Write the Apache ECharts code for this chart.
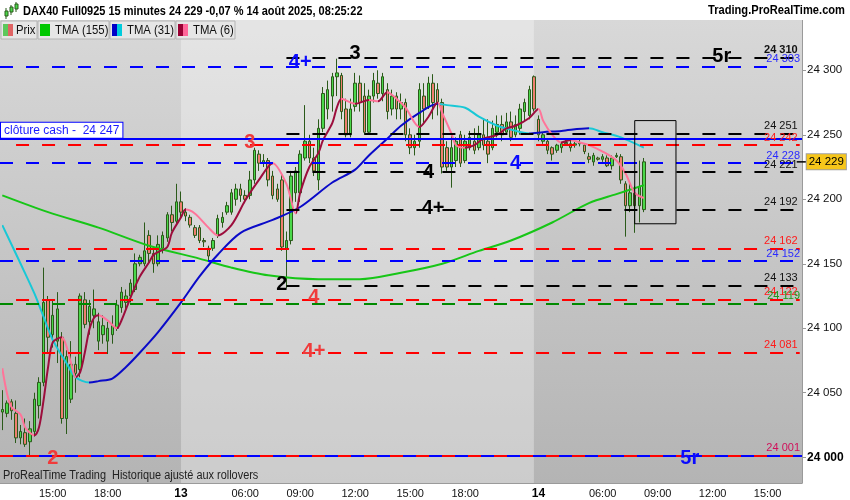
<!DOCTYPE html>
<html>
<head>
<meta charset="utf-8">
<title>DAX40 Full0925 15 minutes</title>
<script src="https://cdn.jsdelivr.net/npm/echarts@6/dist/echarts.min.js"></script>
<style>html,body{margin:0;padding:0;background:#fff}</style>
</head>
<body>
<div id="main" style="width:850px;height:500px;"></div>
<script type="text/javascript">
// séances : jour, première bougie, dernière bougie (15 minutes)
var seances = [['12', '12:15', '21:45'], ['13', '02:30', '21:45'], ['14', '02:30', '16:45']];

// bougies [ouverture, clôture, plus bas, plus haut]
var prix12 = [
  [24035,24037,24021,24052],[24034,24042,24031,24044],[24043,24036,24029,24045],[24034,24015,24011,24044],
  [24015,24020,24010,24025],[24019,24010,24008,24030],[24012,24022,24001,24028],[24020,24045,24016,24050],
  [24040,24058,24030,24062],[24058,24120,24055,24147],[24122,24093,24080,24125],[24095,24110,24085,24122],
  [24090,24115,24073,24128],[24093,24030,24026,24097],[24030,24078,24018,24083],[24045,24072,24042,24090],
  [24072,24065,24050,24078],[24068,24125,24062,24127],[24122,24103,24100,24128],[24105,24117,24095,24122],
  [24110,24115,24100,24130],[24090,24105,24083,24112],[24095,24102,24088,24110],[24090,24100,24080,24105],
  [24095,24102,24088,24110],[24100,24118,24098,24122],[24116,24128,24112,24132],[24120,24125,24115,24130],
  [24125,24135,24120,24138],[24130,24150,24128,24158],[24150,24155,24148,24157],[24150,24160,24148,24182],
  [24172,24158,24150,24176],[24158,24150,24143,24162],[24150,24165,24148,24172],[24162,24172,24158,24175],
  [24170,24188,24167,24190],[24188,24182,24175,24195],[24183,24198,24180,24212]
];
var prix13 = [
  [24198,24190,24185,24206],[24190,24187,24183,24193],[24186,24180,24178,24188],[24178,24172,24170,24180],
  [24178,24168,24166,24180],[24168,24167,24163,24170],[24162,24156,24152,24164],[24162,24168,24160,24170],
  [24172,24185,24170,24188],[24182,24186,24178,24190],[24190,24195,24188,24198],[24190,24205,24188,24208],
  [24200,24208,24195,24212],[24208,24203,24198,24212],[24203,24200,24197,24207],[24203,24215,24200,24222],
  [24215,24238,24212,24240],[24235,24228,24222,24238],[24228,24230,24225,24235],[24230,24215,24210,24232],
  [24218,24203,24200,24222],[24208,24200,24198,24212],[24215,24163,24160,24220],[24162,24168,24131,24175],
  [24168,24218,24165,24222],[24205,24222,24198,24225],[24205,24235,24198,24238],[24232,24245,24230,24273],
  [24245,24232,24228,24250],[24232,24222,24218,24240],[24215,24255,24207,24262],[24255,24282,24252,24287],
  [24270,24285,24262,24292],[24280,24295,24268,24298],[24295,24298,24280,24309],[24296,24268,24262,24298],
  [24270,24250,24248,24278],[24250,24270,24248,24278],[24272,24290,24268,24298],[24290,24275,24268,24296],
  [24280,24252,24250,24290],[24252,24280,24250,24285],[24280,24292,24275,24298],[24290,24282,24278,24300],
  [24282,24295,24276,24298],[24285,24268,24262,24290],[24270,24280,24265,24285],[24280,24270,24262,24283],
  [24270,24275,24262,24282],[24275,24250,24245,24278],[24250,24240,24235,24255],[24240,24245,24234,24250],
  [24245,24285,24240,24290],[24280,24270,24258,24290],[24272,24290,24270,24295],[24290,24275,24262,24297],
  [24285,24275,24265,24290],[24275,24225,24220,24278],[24240,24225,24222,24245],[24225,24240,24209,24252],
  [24230,24245,24225,24248],[24250,24228,24225,24253],[24230,24245,24228,24250],[24240,24248,24238,24253],
  [24245,24238,24235,24255],[24240,24250,24238,24257],[24250,24242,24238,24263],[24245,24235,24228,24262],
  [24240,24255,24238,24261],[24252,24258,24248,24265],[24258,24250,24245,24265],[24252,24260,24250,24267],
  [24260,24248,24245,24268],[24250,24258,24248,24265],[24255,24270,24250,24274],[24268,24275,24260,24278],
  [24265,24285,24262,24288],[24295,24270,24268,24296]
];
var prix14 = [
  [24262,24250,24245,24265],[24245,24250,24243,24252],[24245,24238,24235,24246],[24240,24235,24230,24241],
  [24238,24242,24236,24243],[24240,24243,24236,24244],[24244,24243,24242,24246],[24243,24240,24237,24246],
  [24242,24243,24240,24245],[24243,24244,24241,24246],[24242,24237,24235,24243],[24233,24231,24228,24236],
  [24229,24234,24226,24236],[24232,24231,24230,24233],[24231,24233,24229,24235],[24232,24226,24225,24234],
  [24226,24232,24223,24234],[24233,24234,24232,24236],[24233,24215,24212,24235],[24212,24195,24171,24214],
  [24195,24205,24190,24213],[24205,24195,24174,24210],[24195,24210,24182,24230],[24192,24229,24190,24232]
];

// moyennes mobiles : [index de bougie, valeur]
var tma155 = [[0,24203],[10,24190],[21,24178],[32,24164],[43,24154],[50,24147],[58,24141],[69,24138],[78,24138],
  [87,24143],[96,24150],[104,24160],[111,24168],[120,24182],[128,24197],[134,24204],[140,24211]];
var tma31 = [[0,24180],[4,24150],[7,24127],[9,24109],[11,24091],[14,24073],[16,24062],[19,24058],[21,24059],
  [24,24061],[27,24070],[30,24081],[34,24097],[39,24120],[43,24140],[47,24157],[52,24174],[59,24184],[65,24194],
  [72,24213],[77,24223],[80,24234],[84,24247],[87,24257],[91,24267],[95,24274],[97,24273],[101,24271],[104,24264],
  [108,24257],[111,24254],[115,24251],[118,24252],[122,24253],[128,24255],[131,24252],[135,24248],[140,24240]];
var tma6 = [[0,24069],[1,24050],[2,24039],[4,24033],[5,24023],[7,24017],[8,24023],[9,24044],[10,24070],[11,24089],
  [13,24093],[14,24086],[15,24073],[16,24062],[17,24066],[18,24081],[19,24099],[20,24108],[21,24110],[23,24106],
  [25,24100],[26,24106],[28,24124],[30,24140],[32,24151],[33,24157],[34,24159],[36,24163],[37,24174],[39,24186],
  [40,24192],[42,24189],[45,24178],[47,24172],[50,24180],[53,24199],[56,24215],[59,24228],[62,24212],[64,24189],
  [65,24205],[67,24225],[69,24236],[70,24246],[72,24259],[73,24271],[74,24278],[76,24275],[77,24274],[80,24277],
  [82,24276],[84,24283],[86,24278],[88,24271],[91,24256],[93,24264],[95,24275],[96,24267],[98,24251],[99,24242],
  [101,24240],[103,24242],[105,24247],[108,24250],[110,24255],[112,24257],[115,24263],[117,24270],[118,24261],
  [120,24250],[122,24244],[124,24246],[126,24244],[128,24242],[131,24237],[134,24230],[136,24220],[138,24205],[140,24201]];

// niveaux horizontaux
var niveauxNoirs = [24310, 24251, 24221, 24192, 24133];
var niveauxBleus = [24303, 24228, 24152];
var niveauxRouges = [24242, 24162, 24122, 24081];
var niveauxVerts = [24119];
var niveauBas = 24001;
var clotureCash = 24247;
var dernierCours = 24229;
var graduationsY = [24000, 24050, 24100, 24150, 24200, 24250, 24300];

// repères : [texte, index de bougie, prix]
var reperesNoirs = [['3', 77, 24313], ['5r', 157, 24311], ['4', 93, 24221], ['4+', 94, 24193], ['2', 61, 24134]];
var reperesBleus = [['4+', 65, 24306], ['4', 112, 24228], ['5r', 150, 23999]];
var reperesRouges = [['3', 54, 24244], ['4', 68, 24124], ['4+', 68, 24082], ['2', 11, 23999]];

// cadre : [index début, index fin, bas, haut]
var cadre = [138, 147, 24181, 24261];

var FONT = 'Liberation Sans, Arial, sans-serif';

function pad(n) { return (n < 10 ? '0' : '') + n; }
var categories = [];
seances.forEach(function (s) {
  var a = s[1].split(':'), b = s[2].split(':');
  for (var t = +a[0] * 60 + +a[1]; t <= +b[0] * 60 + +b[1]; t += 15) {
    categories.push(s[0] + ' ' + pad(Math.floor(t / 60)) + ':' + pad(t % 60));
  }
});
function estDebutJour(i) {
  return i > 0 && categories[i].slice(0, 2) !== categories[i - 1].slice(0, 2);
}
function heure(i) { return categories[i].slice(3); }
function fmtPrix(v) { var s = String(v); return s.slice(0, 2) + ' ' + s.slice(2); }

var bougies = prix12.concat(prix13, prix14);
var debut13 = prix12.length, fin13 = prix12.length + prix13.length - 1;
var last = categories.length - 1;

// sens de la pente -> couleur
function pieces(pts, up, down) {
  var p = [];
  for (var i = 1; i < pts.length; i++) {
    p.push({ gte: pts[i - 1][0], lte: pts[i][0], color: pts[i][1] >= pts[i - 1][1] ? up : down });
  }
  return p;
}

function ligne(v, debut, couleur, labCouleur, bold) {
  var lab = { show: true, position: 'insideEndTop', formatter: fmtPrix(v), color: labCouleur,
    fontSize: 11, fontFamily: FONT, fontWeight: bold ? 'bold' : 'normal', distance: 2 };
  var st = { color: couleur, width: 2, type: [13, 13] };
  if (debut === 0) return { yAxis: v, lineStyle: st, label: lab };
  return [{ coord: [categories[debut], v], lineStyle: st, label: lab }, { coord: [categories[last], v] }];
}

var lignes = [];
niveauxNoirs.forEach(function (v) { lignes.push(ligne(v, 62, '#000', '#111', v === 24310)); });
niveauxBleus.forEach(function (v) { lignes.push(ligne(v, 0, '#0000ff', '#2a2aff')); });
niveauxRouges.forEach(function (v) { lignes.push(ligne(v, 3, '#ff0000', '#ff1a1a')); });
niveauxVerts.forEach(function (v) { lignes.push(ligne(v, 0, '#008a00', '#1a9a1a')); });
lignes.push({ yAxis: niveauBas, lineStyle: { color: '#ff0000', width: 2, type: [13, 13] },
  label: { show: true, position: 'insideEndTop', formatter: fmtPrix(niveauBas), color: '#d0105a', fontSize: 11, fontFamily: FONT, distance: 2 } });
lignes.push({ yAxis: niveauBas, lineStyle: { color: '#0000ff', width: 2, type: [13, 13], dashOffset: 13 }, label: { show: false } });
lignes.push({ yAxis: clotureCash, lineStyle: { color: '#0000ff', width: 2, type: 'solid' },
  label: { show: true, position: 'insideStartTop', formatter: 'clôture cash -  ' + fmtPrix(clotureCash), color: '#1a1aff',
    fontSize: 12, fontFamily: FONT, backgroundColor: '#fff', borderColor: '#0000ff', borderWidth: 1, padding: [2, 3, 1, 3], distance: 1 } });

var reperes = [];
function ajoutReperes(liste, couleur) {
  liste.forEach(function (r) {
    reperes.push({ coord: [categories[r[1]], r[2]], symbolSize: 0,
      label: { show: true, position: 'inside', formatter: r[0], color: couleur, fontSize: 20, fontWeight: 'bold', fontFamily: FONT } });
  });
}
ajoutReperes(reperesNoirs, '#000');
ajoutReperes(reperesBleus, '#0a0aff');
ajoutReperes(reperesRouges, '#f03a3a');
// étiquette du dernier cours, sur l'axe de droite
reperes.push({ coord: [categories[last], dernierCours], symbol: 'rect', symbolSize: [10, 1.5], symbolOffset: [2, 0],
  itemStyle: { color: '#000' },
  label: { show: true, position: 'right', distance: 0, formatter: fmtPrix(dernierCours), color: '#000', fontSize: 11.5,
    fontFamily: FONT, backgroundColor: '#f6c61a', borderColor: '#a0a0a0', borderWidth: 1, padding: [2, 2, 1, 2] } });

var myChart = echarts.init(document.getElementById('main'));

var option = {
  animation: false,
  textStyle: { fontFamily: FONT },
  grid: { left: 0, right: 48, top: 20, bottom: 17, show: true, borderWidth: 0,
    backgroundColor: { type: 'linear', x: 0, y: 0, x2: 0, y2: 1,
      colorStops: [{ offset: 0, color: '#d8d8d8' }, { offset: 1, color: '#b4b4b4' }] } },
  xAxis: {
    type: 'category', data: categories, boundaryGap: true,
    axisLine: { lineStyle: { color: '#9a9a9a' } },
    axisTick: { alignWithLabel: true, length: 4, lineStyle: { color: '#9a9a9a' },
      interval: function (i) { var h = heure(i); return estDebutJour(i) || (h.slice(3) === '00' && (+h.slice(0, 2)) % 3 === 0); } },
    axisLabel: { color: '#111', fontSize: 11, margin: 5,
      interval: function (i) {
        var h = heure(i), hh = +h.slice(0, 2);
        return estDebutJour(i) || (h.slice(3) === '00' && hh % 3 === 0 && hh !== 21 && hh !== 3);
      },
      formatter: function (v, i) { return estDebutJour(i) ? '{d|' + v.slice(0, 2) + '}' : v.slice(3); },
      rich: { d: { fontWeight: 'bold', fontSize: 12, color: '#000' } } },
    splitLine: { show: false }
  },
  yAxis: {
    type: 'value', position: 'right', min: 23980, max: 24339, scale: true,
    axisLine: { show: true, lineStyle: { color: '#9a9a9a' } },
    axisTick: { show: true, length: 4, lineStyle: { color: '#9a9a9a' }, customValues: graduationsY },
    axisLabel: { color: '#111', fontSize: 11.5, margin: 5, customValues: graduationsY,
      formatter: function (v) { return v === 24000 ? '{b|' + fmtPrix(v) + '}' : fmtPrix(v); },
      rich: { b: { fontWeight: 'bold', fontSize: 12, color: '#000' } } },
    splitLine: { show: false }
  },
  visualMap: [
    { show: false, seriesIndex: 2, dimension: 0, pieces: pieces(tma31, '#0a0ac8', '#18c8d6') },
    { show: false, seriesIndex: 3, dimension: 0, pieces: pieces(tma6, '#9c0d3c', '#ff7499') }
  ],
  series: [
    {
      name: 'Prix', type: 'candlestick', data: bougies, barWidth: 3,
      itemStyle: { color: '#4ad84a', color0: '#f07f70', borderColor: '#2b5a1a', borderColor0: '#2b5a1a', borderWidth: 1 },
      markArea: { silent: true, itemStyle: { color: 'rgba(255,255,255,0.32)' },
        data: [[{ xAxis: categories[debut13] }, { xAxis: categories[fin13] }]] }
    },
    {
      name: 'TMA (155)', type: 'line', data: tma155, smooth: 0.3, showSymbol: false, z: 3,
      lineStyle: { color: '#17c617', width: 2 },
      markArea: { silent: true, z: 6, itemStyle: { color: 'rgba(0,0,0,0)', borderColor: '#000', borderWidth: 1 },
        data: [[{ coord: [categories[cadre[0]], cadre[2]] }, { coord: [categories[cadre[1]], cadre[3]] }]] }
    },
    { name: 'TMA (31)', type: 'line', data: tma31, smooth: 0.3, showSymbol: false, z: 3, lineStyle: { width: 2 } },
    { name: 'TMA (6)', type: 'line', data: tma6, smooth: 0.3, showSymbol: false, z: 3, lineStyle: { width: 2 } },
    {
      name: 'niveaux', type: 'line', data: [], z: 4,
      markLine: { silent: true, symbol: 'none', data: lignes },
      markPoint: { silent: true, symbol: 'circle', itemStyle: { color: 'rgba(0,0,0,0)' }, data: reperes }
    }
  ],
  graphic: [
    { type: 'rect', z: 100, shape: { x: 0, y: 0, width: 850, height: 20 }, style: { fill: '#fff' } },
    { type: 'line', z: 101, shape: { x1: 6, y1: 8, x2: 6, y2: 19 }, style: { stroke: '#2b5a1a', lineWidth: 1 } },
    { type: 'rect', z: 102, shape: { x: 5, y: 11, width: 3, height: 5 }, style: { fill: '#4ad84a', stroke: '#2b5a1a', lineWidth: 1 } },
    { type: 'line', z: 101, shape: { x1: 11, y1: 5, x2: 11, y2: 15 }, style: { stroke: '#2b5a1a', lineWidth: 1 } },
    { type: 'rect', z: 102, shape: { x: 10, y: 7, width: 3, height: 5 }, style: { fill: '#4ad84a', stroke: '#2b5a1a', lineWidth: 1 } },
    { type: 'line', z: 101, shape: { x1: 16, y1: 2, x2: 16, y2: 12 }, style: { stroke: '#2b5a1a', lineWidth: 1 } },
    { type: 'rect', z: 102, shape: { x: 15, y: 4, width: 3, height: 5 }, style: { fill: '#4ad84a', stroke: '#2b5a1a', lineWidth: 1 } },
    { type: 'text', z: 101, x: 23, y: 11, scaleX: 0.845, style: { text: 'DAX40 Full0925 15 minutes 24 229 -0,07 % 14 août 2025, 08:25:22',
      font: 'bold 13px ' + FONT, fill: '#000', verticalAlign: 'middle' } },
    { type: 'text', z: 101, x: 845, y: 11, scaleX: 0.89, style: { text: 'Trading.ProRealTime.com', font: 'bold 12.5px ' + FONT,
      fill: '#000', align: 'right', verticalAlign: 'middle' } },
    // légende
    { type: 'rect', z: 100, shape: { x: 1, y: 21, width: 36, height: 18 }, style: { fill: '#e6e6e6', stroke: '#b4b4b4', lineWidth: 1 } },
    { type: 'rect', z: 101, shape: { x: 3, y: 24, width: 5, height: 12 }, style: { fill: '#5cc85c' } },
    { type: 'rect', z: 101, shape: { x: 8, y: 24, width: 5, height: 12 }, style: { fill: '#e06464' } },
    { type: 'text', z: 101, x: 16, y: 30, scaleX: 0.87, style: { text: 'Prix', font: '13px ' + FONT, fill: '#111', verticalAlign: 'middle' } },
    { type: 'rect', z: 100, shape: { x: 38, y: 21, width: 71, height: 18 }, style: { fill: '#e6e6e6', stroke: '#b4b4b4', lineWidth: 1 } },
    { type: 'rect', z: 101, shape: { x: 40, y: 24, width: 10, height: 12 }, style: { fill: '#00c800' } },
    { type: 'text', z: 101, x: 55, y: 30, scaleX: 0.87, style: { text: 'TMA (155)', font: '13px ' + FONT, fill: '#111', verticalAlign: 'middle' } },
    { type: 'rect', z: 100, shape: { x: 110, y: 21, width: 65, height: 18 }, style: { fill: '#e6e6e6', stroke: '#b4b4b4', lineWidth: 1 } },
    { type: 'rect', z: 101, shape: { x: 112, y: 24, width: 5, height: 12 }, style: { fill: '#0000c8' } },
    { type: 'rect', z: 101, shape: { x: 117, y: 24, width: 5, height: 12 }, style: { fill: '#00ccdd' } },
    { type: 'text', z: 101, x: 127, y: 30, scaleX: 0.87, style: { text: 'TMA (31)', font: '13px ' + FONT, fill: '#111', verticalAlign: 'middle' } },
    { type: 'rect', z: 100, shape: { x: 176, y: 21, width: 59, height: 18 }, style: { fill: '#e6e6e6', stroke: '#b4b4b4', lineWidth: 1 } },
    { type: 'rect', z: 101, shape: { x: 178, y: 24, width: 5, height: 12 }, style: { fill: '#990033' } },
    { type: 'rect', z: 101, shape: { x: 183, y: 24, width: 5, height: 12 }, style: { fill: '#ff6699' } },
    { type: 'text', z: 101, x: 193, y: 30, scaleX: 0.87, style: { text: 'TMA (6)', font: '13px ' + FONT, fill: '#111', verticalAlign: 'middle' } },
    { type: 'text', z: 101, x: 3, y: 476, scaleX: 0.91, style: { text: 'ProRealTime Trading  Historique ajusté aux rollovers',
      font: '12px ' + FONT, fill: '#222', verticalAlign: 'middle' } }
  ]
};

if (option && typeof option === 'object') {
  myChart.setOption(option);
}
</script>
</body>
</html>
